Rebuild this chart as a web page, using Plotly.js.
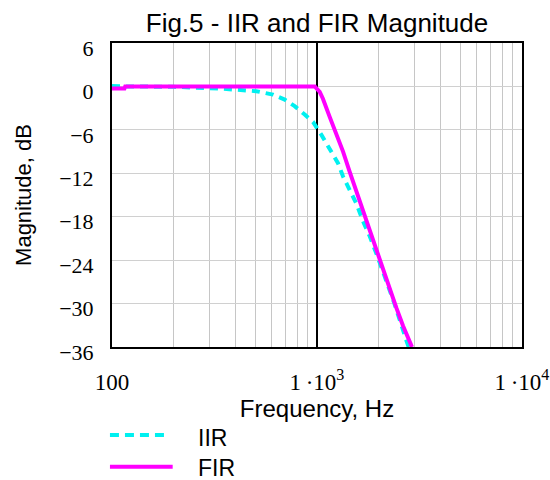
<!DOCTYPE html>
<html>
<head>
<meta charset="utf-8">
<script src="https://cdn.plot.ly/plotly-3.0.1.min.js"></script>
<style>html,body{margin:0;padding:0;background:#fff;}#chart{width:550px;height:480px;}</style>
</head>
<body>
<div id="chart"></div>
<script>
// IIR magnitude response (Hz, dB)
const iirFreq = [100, 115, 200, 300, 342, 506, 610, 696, 778, 871, 956, 1051, 1153, 1266, 1340, 1444, 1557, 1676, 1808, 1985, 2181, 2393, 2729, 2800];
const iirMag  = [0.05, 0.0, -0.05, -0.15, -0.3, -0.66, -1.13, -1.82, -2.72, -3.88, -4.9, -6.7, -8.6, -10.6, -12.45, -14.3, -16.2, -18.6, -20.7, -23.7, -26.9, -30.1, -35.1, -36];
// FIR magnitude response (Hz, dB)
const firFreq = [100, 115, 116, 975, 1031, 1069, 1153, 1243, 1340, 1444, 1557, 1676, 1808, 1950, 2100, 2262, 2439, 2630, 2907];
const firMag  = [-0.3, -0.3, 0, 0, -0.76, -1.7, -4.2, -6.5, -9.0, -11.8, -14.5, -17.3, -20.0, -22.8, -25.5, -28.0, -30.6, -33.1, -36];
// marker line at 1 kHz
const markerFreq = [1000, 1000];
const markerMag = [-36, 6];

const xTickVals = [100,200,300,400,500,600,700,800,900,1000,2000,3000,4000,5000,6000,7000,8000,9000,10000];
const xTickText = xTickVals.map(v => v === 100 ? '100' : v === 1000 ? '1\u2009·10<sup>3</sup>' : v === 10000 ? '1\u2009·10<sup>4</sup>' : '');
const yTickVals = [6, 0, -6, -12, -18, -24, -30, -36];
const yTickText = yTickVals.map(v => v < 0 ? '\u2212' + Math.abs(v) : String(v));

const seriesNames = ['IIR', 'FIR'];

const traces = [
  {x: markerFreq, y: markerMag, mode: 'lines', line: {color: '#000', width: 2}, hoverinfo: 'skip', showlegend: false},
  {x: iirFreq, y: iirMag, name: seriesNames[0], mode: 'lines', line: {color: '#00f0f0', width: 4, dash: '8px,6px'}},
  {x: firFreq, y: firMag, name: seriesNames[1], mode: 'lines', line: {color: '#ff00ff', width: 4}}
];

const sans = '"Liberation Sans", Arial, sans-serif';
const serif = '"Liberation Serif", "Times New Roman", serif';

const layout = {
  width: 550, height: 480,
  margin: {l: 112, r: 28, t: 43, b: 133},
  paper_bgcolor: '#fff', plot_bgcolor: '#fff',
  showlegend: false,
  title: {text: 'Fig.5 - IIR and FIR Magnitude', font: {family: sans, size: 26, color: '#000'},
          xref: 'paper', x: 0.5, xanchor: 'center', yref: 'container', y: 0.953, yanchor: 'middle'},
  xaxis: {
    type: 'log', range: [2, 4],
    tickvals: xTickVals, ticktext: xTickText, ticks: '',
    tickfont: {family: serif, size: 23, color: '#000'},
    ticklabelstandoff: 13,
    showgrid: true, gridcolor: '#c6c6c6', gridwidth: 1,
    showline: true, linecolor: '#000', linewidth: 2, mirror: true,
    zeroline: false,
    title: {text: 'Frequency, Hz', font: {family: sans, size: 24, color: '#000'}, standoff: 0}
  },
  yaxis: {
    range: [-36, 6],
    tickvals: yTickVals, ticktext: yTickText, ticks: '',
    tickfont: {family: serif, size: 22, color: '#000'},
    ticklabelstandoff: 12, ticklabelshift: 5,
    showgrid: true, gridcolor: '#d0d0d0', gridwidth: 1,
    showline: true, linecolor: '#000', linewidth: 2, mirror: true,
    zeroline: false,
    title: {text: 'Magnitude, dB', font: {family: sans, size: 22, color: '#000'}, standoff: 21}
  },
  shapes: [
    {type: 'line', xref: 'paper', yref: 'paper', x0: -0.005, x1: 0.14, y0: -0.2895, y1: -0.2895,
     line: {color: '#00f0f0', width: 4, dash: '9px,6px'}},
    {type: 'line', xref: 'paper', yref: 'paper', x0: -0.005, x1: 0.148, y0: -0.394, y1: -0.394,
     line: {color: '#ff00ff', width: 4}}
  ],
  annotations: [
    {xref: 'paper', yref: 'paper', x: 0.205, y: -0.3, xanchor: 'left', yanchor: 'middle', showarrow: false,
     text: seriesNames[0], font: {family: sans, size: 23, color: '#000'}},
    {xref: 'paper', yref: 'paper', x: 0.205, y: -0.398, xanchor: 'left', yanchor: 'middle', showarrow: false,
     text: seriesNames[1], font: {family: sans, size: 23, color: '#000'}}
  ]
};

Plotly.newPlot('chart', traces, layout, {displayModeBar: false, staticPlot: true});
</script>
</body>
</html>
